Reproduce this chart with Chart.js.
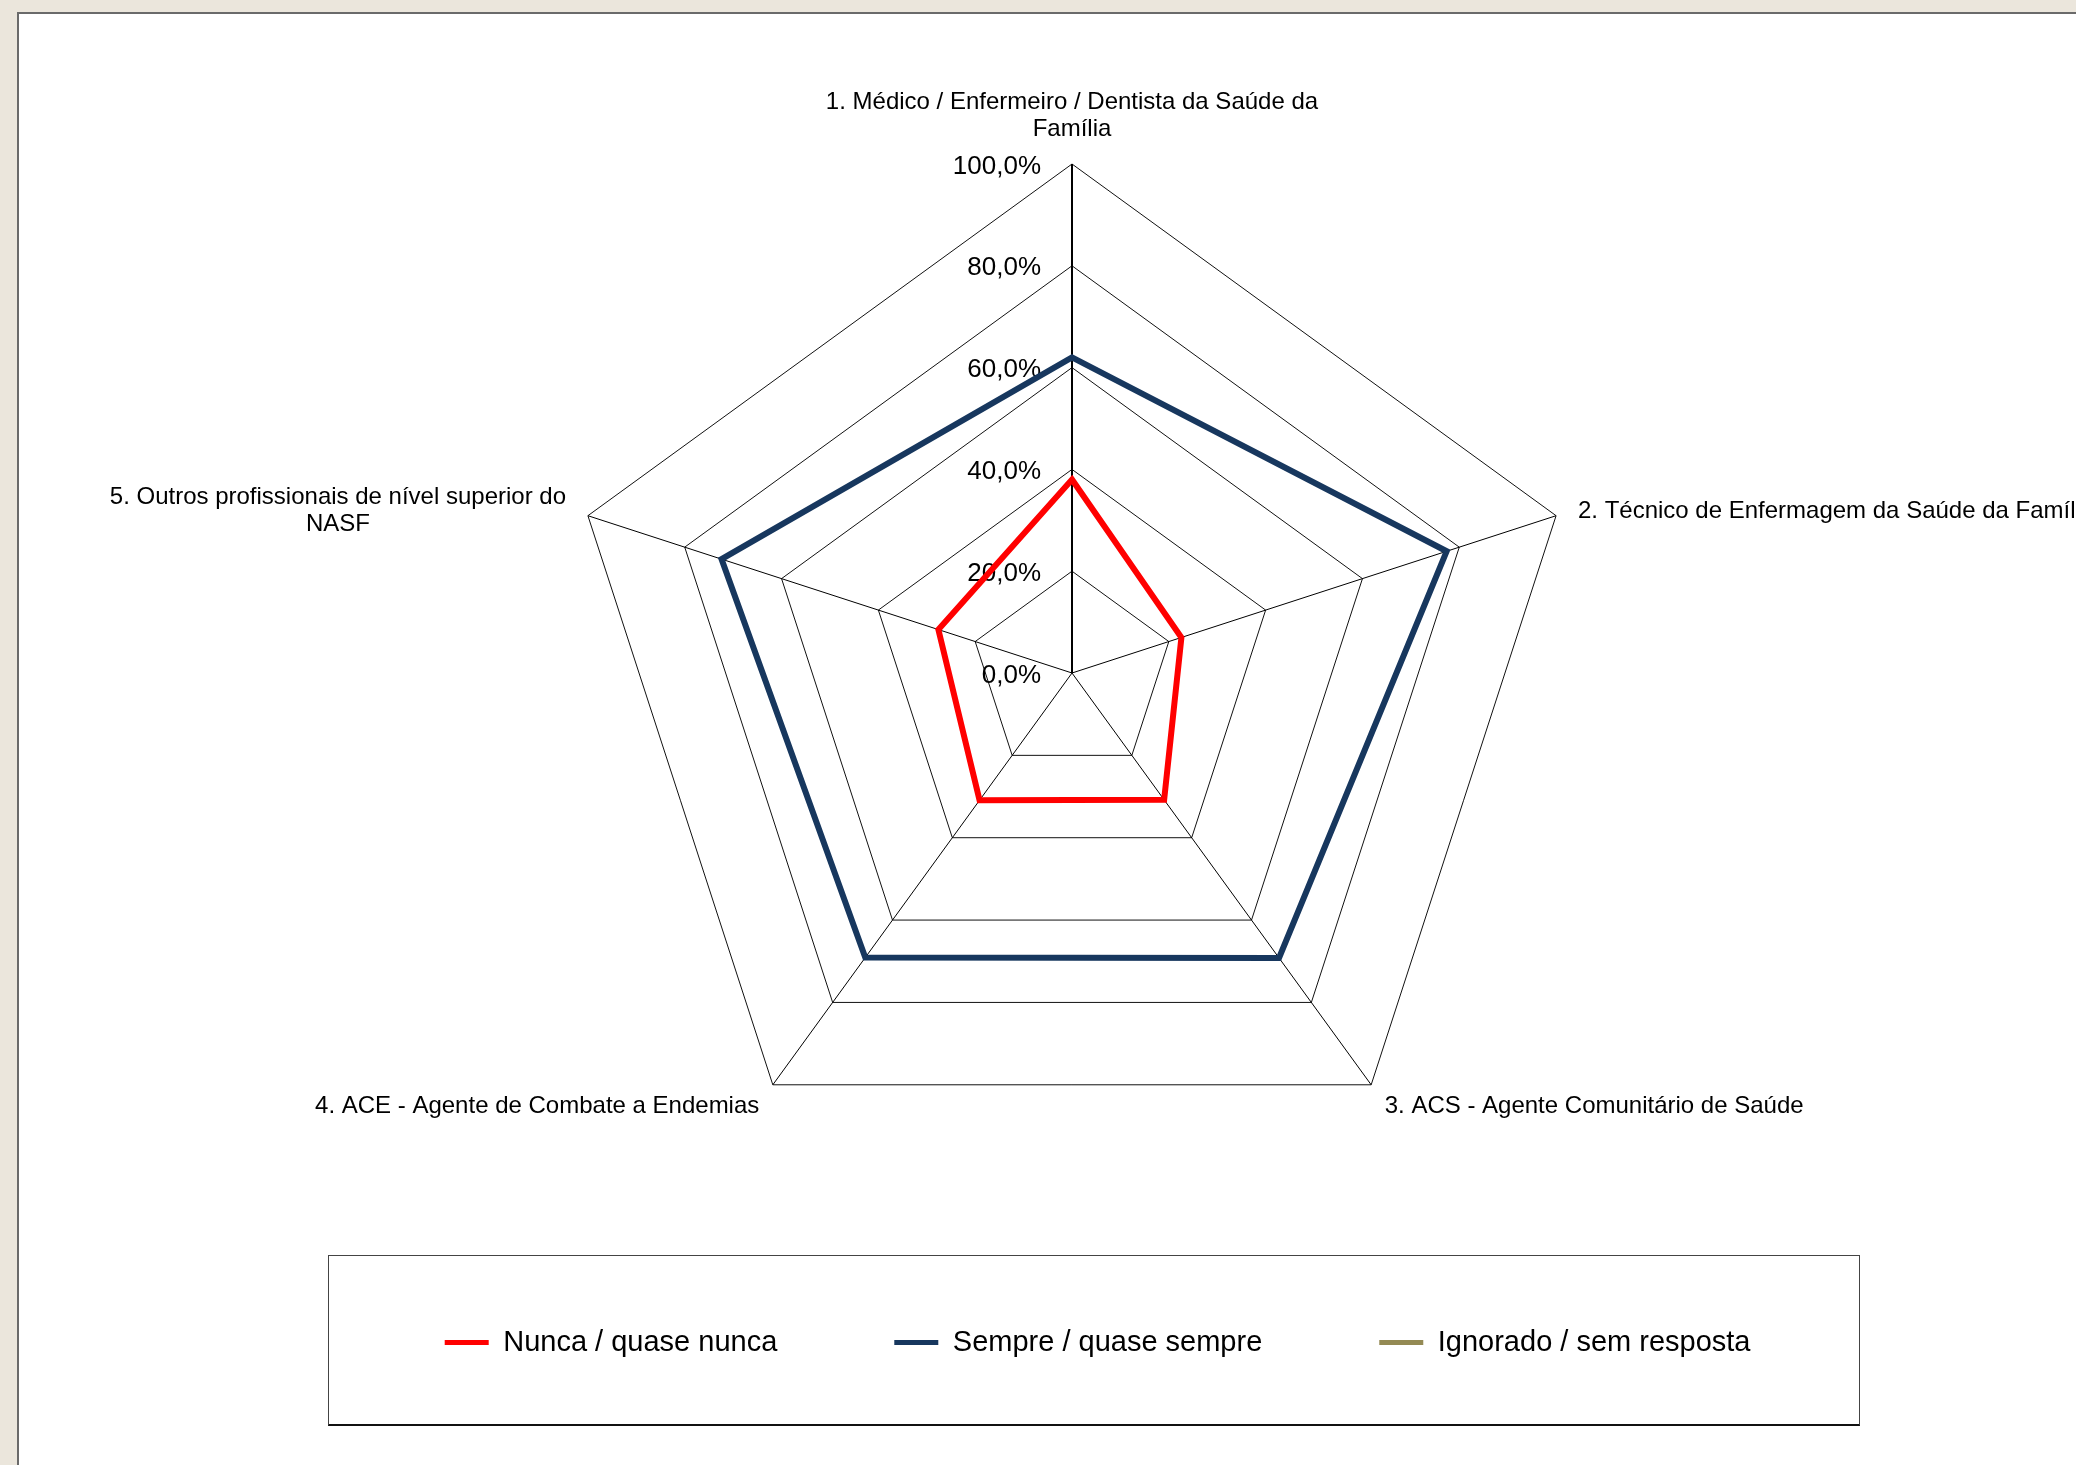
<!DOCTYPE html>
<html lang="pt-BR">
<head>
<meta charset="utf-8">
<title>Radar</title>
<script src="https://cdn.jsdelivr.net/npm/chart.js@4.4.1/dist/chart.umd.min.js"></script>
<style>
  html, body { margin: 0; padding: 0; width: 2076px; height: 1465px; overflow: hidden; background: #ebe6dc; }
  #panel { position: absolute; left: 17px; top: 12px; width: 2100px; height: 1500px; background: #fff; border-left: 2px solid #6a6a6a; border-top: 2px solid #6a6a6a; }
  #legend-frame { position: absolute; left: 328px; top: 1255px; width: 1530px; height: 168px; border: 1px solid #444; border-bottom: 2px solid #111; }
  #chart { position: absolute; left: 0; top: 0; }
</style>
</head>
<body>
<div id="panel"></div>
<div id="legend-frame"></div>
<canvas id="chart" width="2076" height="1465"></canvas>
<script>
const categories = [
  ['1. Médico / Enfermeiro / Dentista da Saúde da', 'Família'],
  '2. Técnico de Enfermagem da Saúde da Família',
  '3. ACS - Agente Comunitário de Saúde',
  '4. ACE - Agente de Combate a Endemias',
  ['5. Outros profissionais de nível superior do', 'NASF']
];
const nunca = [38.0, 22.6, 30.8, 30.9, 27.6];
const sempre = [62.0, 77.4, 69.2, 69.1, 72.4];
const ignorado = [0, 0, 0, 0, 0];
const tickLabels = ['0,0%', '20,0%', '40,0%', '60,0%', '80,0%', '100,0%'];

const FONT = '"Liberation Sans", Arial, Helvetica, sans-serif';
Chart.defaults.font.family = FONT;
Chart.defaults.color = '#000';

// Excel puts the value labels left of the axis and the category labels
// centred on the spoke ends, so these two are drawn here from the scale
const excelLabels = {
  id: 'excelLabels',
  beforeDatasetsDraw(chart) {
    const s = chart.scales.r;
    const ctx = chart.ctx;
    const dy = 2.5; // canvas 'middle' sits a bit above the cap centre
    ctx.save();
    ctx.fillStyle = '#000';
    ctx.textBaseline = 'middle';

    ctx.font = '26px ' + FONT;
    ctx.textAlign = 'right';
    s.ticks.forEach(t => {
      ctx.fillText(t.label, s.xCenter - 31, s.yCenter - s.getDistanceFromCenterForValue(t.value) + dy);
    });

    ctx.font = '24px ' + FONT;
    ctx.textAlign = 'center';
    const lh = 27.5;
    chart.data.labels.forEach((lab, i) => {
      const lines = Array.isArray(lab) ? lab : [lab];
      const p = s.getPointPosition(i, s.drawingArea + 23);
      const a = s.getIndexAngle(i);
      const sin = Math.sin(a), cos = Math.cos(a);
      const w = Math.max(...lines.map(l => ctx.measureText(l).width));
      let cx, top;
      if (Math.abs(sin) < 0.01) {
        cx = p.x;
        top = cos > 0 ? p.y - lines.length * lh : p.y;
      } else {
        cx = sin > 0 ? p.x + w / 2 : p.x - w / 2;
        top = p.y - lines.length * lh / 2;
      }
      lines.forEach((l, j) => ctx.fillText(l, cx, top + lh * (j + 0.5) + dy));
    });
    ctx.restore();
  }
};

new Chart(document.getElementById('chart'), {
  type: 'radar',
  data: {
    labels: categories,
    datasets: [
      { label: 'Nunca / quase nunca', data: nunca, borderColor: '#ff0000', backgroundColor: '#ff0000' },
      { label: 'Sempre / quase sempre', data: sempre, borderColor: '#17375e', backgroundColor: '#17375e' },
      { label: 'Ignorado / sem resposta', data: ignorado, borderColor: '#948a54', backgroundColor: '#948a54' }
    ]
  },
  options: {
    responsive: false,
    animation: false,
    layout: { padding: { left: 276.5, right: 208.5, top: 164, bottom: 98 } },
    elements: {
      line: { borderWidth: 6, fill: false, tension: 0 },
      // points are hidden; their border width feeds the legend line
      point: { radius: 0, hoverRadius: 0, borderWidth: 5, pointStyle: 'line' }
    },
    scales: {
      r: {
        min: 0,
        max: 100,
        ticks: { stepSize: 20, display: false, callback: (v, i) => tickLabels[i] },
        pointLabels: { display: false },
        grid: { color: '#111', lineWidth: 1 },
        angleLines: { color: '#000', lineWidth: c => c.index === 0 ? 2 : 1 }
      }
    },
    plugins: {
      legend: {
        position: 'bottom',
        align: 'end',
        // empty title only pushes the row down inside the frame
        title: { display: true, text: '', padding: 0, font: { size: 29, lineHeight: 1 } },
        labels: {
          usePointStyle: true,
          pointStyle: 'line',
          pointStyleWidth: 44,
          padding: 117,
          color: '#000',
          font: { size: 29 }
        }
      },
      tooltip: { enabled: false }
    }
  },
  plugins: [excelLabels]
});
</script>
</body>
</html>
